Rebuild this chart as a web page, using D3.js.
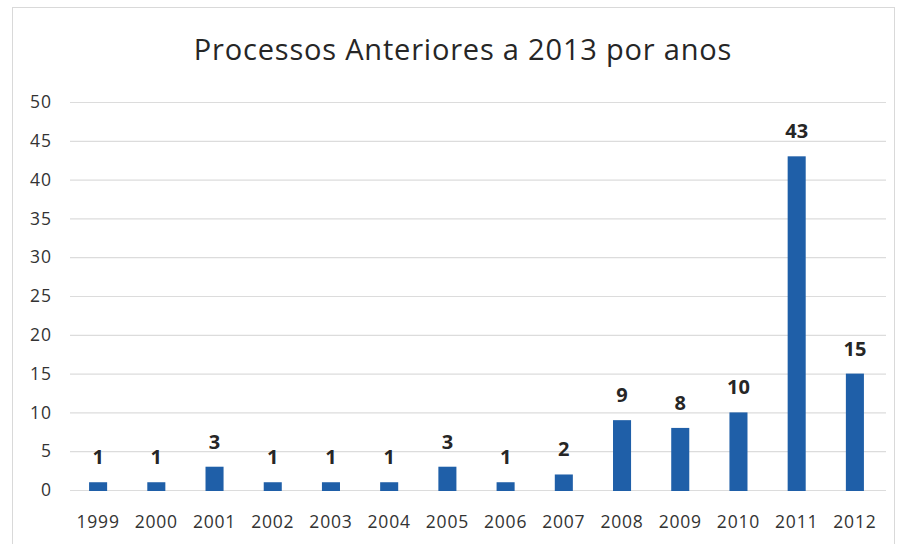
<!DOCTYPE html>
<html>
<head>
<meta charset="utf-8">
<script src="https://cdn.jsdelivr.net/npm/d3@7"></script>
<style>
  body { margin: 0; background: #fff; }
  text { font-family: "Open Sans", "Noto Sans", sans-serif; }
</style>
</head>
<body>
<div id="viz"></div>
<script>
// chart data
var years = ["1999","2000","2001","2002","2003","2004","2005","2006","2007","2008","2009","2010","2011","2012"]
var counts = [1, 1, 3, 1, 1, 1, 3, 1, 2, 9, 8, 10, 43, 15]
var yTicks = [0, 5, 10, 15, 20, 25, 30, 35, 40, 45, 50]

var data = years.map((y, i) => ({year: y, value: counts[i]}))

var svg = d3.select("#viz")
    .append("svg")
    .attr("width", 901)
    .attr("height", 544)

// outer border of chart area
svg.append("rect")
    .attr("x", 12.5)
    .attr("y", 7.5)
    .attr("width", 882)
    .attr("height", 545)
    .style("fill", "none")
    .style("stroke", "#d9d9d9")

var x = d3.scaleBand()
    .domain(years)
    .range([69, 884])
    .paddingInner(0.69)
    .paddingOuter(0.345)

var y = d3.scaleLinear()
    .domain([0, 50])
    .range([490, 102])

// gridlines
svg.append("g")
    .selectAll("line")
    .data(yTicks)
    .enter()
    .append("line")
    .attr("x1", 70)
    .attr("x2", 886)
    .attr("y1", d => y(d) + 0.5)
    .attr("y2", d => y(d) + 0.5)
    .style("stroke", "#dcdcdc")
    .style("stroke-width", 1.2)

// y axis labels
svg.append("g")
    .selectAll("text")
    .data(yTicks)
    .enter()
    .append("text")
    .attr("x", 52)
    .attr("y", d => y(d))
    .attr("dy", "0.35em")
    .attr("text-anchor", "end")
    .style("font-size", "17.5px")
    .style("letter-spacing", "1px")
    .style("fill", "#333")
    .text(d => d)

// x axis labels
svg.append("g")
    .selectAll("text")
    .data(years)
    .enter()
    .append("text")
    .attr("x", d => x(d) + x.bandwidth() / 2)
    .attr("y", 528)
    .attr("text-anchor", "middle")
    .style("font-size", "17.5px")
    .style("letter-spacing", "0.8px")
    .style("fill", "#333")
    .text(d => d)

// bars
svg.append("g")
    .selectAll("rect")
    .data(data)
    .enter()
    .append("rect")
    .attr("x", d => x(d.year))
    .attr("y", d => y(d.value))
    .attr("width", x.bandwidth())
    .attr("height", d => y(0) - y(d.value) + 1)
    .style("fill", "#1f5fa8")

// value labels
svg.append("g")
    .selectAll("text")
    .data(data)
    .enter()
    .append("text")
    .attr("x", d => x(d.year) + x.bandwidth() / 2)
    .attr("y", d => y(d.value) - 18)
    .attr("text-anchor", "middle")
    .style("font-size", "20px")
    .style("font-weight", "bold")
    .style("fill", "#262626")
    .text(d => d.value)

// title
svg.append("text")
    .attr("x", 463)
    .attr("y", 60)
    .attr("text-anchor", "middle")
    .style("font-size", "29px")
    .style("letter-spacing", "0.8px")
    .style("fill", "#262626")
    .text("Processos Anteriores a 2013 por anos")
</script>
</body>
</html>
